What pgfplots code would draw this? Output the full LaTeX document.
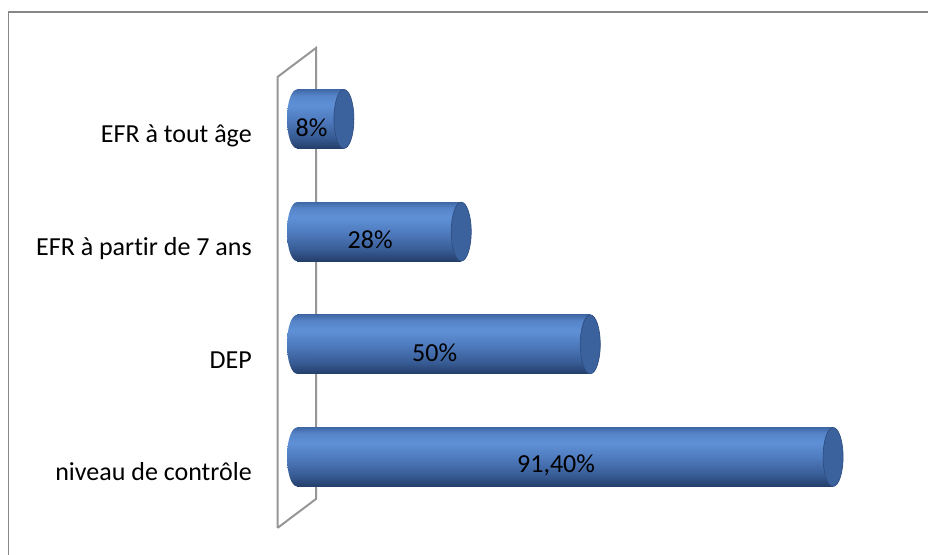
\documentclass[border=0pt]{standalone}
\usepackage{pgfplots}
\pgfplotsset{compat=1.18}
\usepackage{pgfplotstable}
\usepackage{fontspec}
\setmainfont{Carlito}[Ligatures=NoCommon]

\definecolor{framegray}{RGB}{135,135,135}
\definecolor{wallgray}{RGB}{150,150,150}
\definecolor{cB}{RGB}{36,62,106}
\definecolor{c1}{RGB}{56,93,150}
\definecolor{c2}{RGB}{80,124,192}
\definecolor{c3}{RGB}{95,144,214}
\definecolor{c4}{RGB}{86,132,200}
\definecolor{cT}{RGB}{64,104,166}
\definecolor{capfill}{RGB}{60,98,158}
\definecolor{capedge}{RGB}{46,78,130}

% cylinder body: dark lower edge, light band above the middle
\pgfdeclareverticalshading{cylbody}{100bp}{%
  color(0bp)=(cB); color(25bp)=(cB); color(35bp)=(c1); color(50bp)=(c2);
  color(62bp)=(c3); color(70bp)=(c4); color(75bp)=(cT); color(100bp)=(cT)}

% rounded left end and flat right end of each cylinder
\pgfdeclareplotmark{cylleft}{%
  \pgfpathellipse{\pgfpointorigin}{\pgfqpoint{7.5pt}{0pt}}{\pgfqpoint{0pt}{22.1pt}}%
  \pgfshadepath{cylbody}{0}%
  \pgfusepath{discard}}
\pgfdeclareplotmark{cylright}{%
  \pgfpathellipse{\pgfpointorigin}{\pgfqpoint{7.5pt}{0pt}}{\pgfqpoint{0pt}{22.1pt}}%
  \pgfusepath{fill,stroke}}

\pgfplotstableread{
y v lab
0 91.4 {91,40\%}
1 50 {50\%}
2 28 {28\%}
3 8 {8\%}
}\datatable

\pgfplotsset{cylbar/.style={xbar, bar width=44.25pt, draw=none, shade, shading=cylbody, forget plot}}

\begin{document}
\begin{tikzpicture}
\path[use as bounding box] (0,0) rectangle (696pt,416.25pt);
% chart frame (top and left edges)
\draw[framegray, line width=1.3pt] (6.375pt,-2pt) -- (6.375pt,407.25pt) -- (700pt,407.25pt);

\begin{axis}[
  at={(222.75pt,31.275pt)}, anchor=south west,
  scale only axis, width=439.9pt, height=338pt,
  xmin=0, xmax=100, ymin=-0.5, ymax=3.5,
  clip=false,
  axis line style={draw=none}, major tick style={draw=none},
  xtick=\empty,
  ytick={0,1,2,3},
  yticklabels={niveau de contrôle, DEP, EFR à partir de 7 ans, EFR à tout âge},
  yticklabel style={anchor=base east, inner sep=0pt, xshift=-33.75pt, yshift=-17.8pt,
    font=\fontsize{19.5}{22}\selectfont},
]
% back wall
\addplot[draw=wallgray, line width=1.5pt, mark=none]
  coordinates {(-3.32,-0.63) (-3.32,3.373) (3.24,3.63) (3.24,-0.373) (-3.32,-0.63)};
% left ends
\addplot[only marks, mark=cylleft] table[x expr=0, y=y] {\datatable};
% bodies, one path per bar so each gets its own shading
\addplot[cylbar] coordinates {(91.4,0)};
\addplot[cylbar] coordinates {(50,1)};
\addplot[cylbar] coordinates {(28,2)};
\addplot[cylbar] coordinates {(8,3)};
% right ends
\addplot[only marks, mark=cylright, mark options={fill=capfill, draw=capedge, line width=0.5pt}]
  table[x=v, y=y] {\datatable};
% value labels
\addplot[draw=none, mark=none, nodes near coords, point meta=explicit symbolic,
  nodes near coords style={anchor=center, xshift=-6.75pt, yshift=-6.4pt,
    font=\fontsize{19.5}{22}\selectfont, text=black}]
  table[x expr=\thisrow{v}/2, y=y, meta=lab] {\datatable};
\end{axis}
\end{tikzpicture}
\end{document}
